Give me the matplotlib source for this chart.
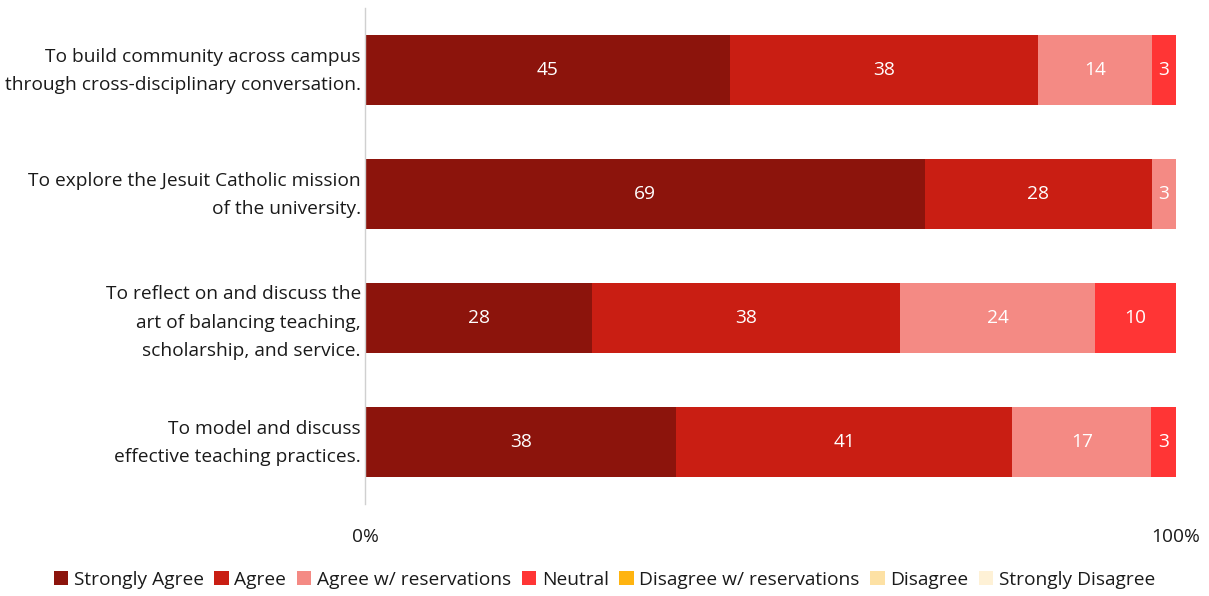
import matplotlib.pyplot as plt
import matplotlib.transforms as mtransforms
import numpy as np

plt.rcParams['font.family'] = ['Open Sans', 'DejaVu Sans']

statements = [
    "To build community across campus\nthrough cross-disciplinary conversation.",
    "To explore the Jesuit Catholic mission\nof the university.",
    "To reflect on and discuss the\nart of balancing teaching,\nscholarship, and service.",
    "To model and discuss\neffective teaching practices.",
]
responses = ["Strongly Agree", "Agree", "Agree w/ reservations", "Neutral",
             "Disagree w/ reservations", "Disagree", "Strongly Disagree"]
strongly_agree = [45, 69, 28, 38]
agree = [38, 28, 38, 41]
agree_res = [14, 3, 24, 17]
neutral = [3, 0, 10, 3]
disagree_res = [0, 0, 0, 0]
disagree = [0, 0, 0, 0]
strongly_disagree = [0, 0, 0, 0]
colors = ["#8C140C", "#C91E13", "#F48A84", "#FF3535",
          "#FFB410", "#FDE1A4", "#FEF1D6"]
xtick_labels = ["0%", "100%"]

series = np.array([strongly_agree, agree, agree_res, neutral,
                   disagree_res, disagree, strongly_disagree], dtype=float)
shares = series / series.sum(axis=0)

FS = 13.8
fig = plt.figure(figsize=(12.09, 5.96), dpi=100)
ax = fig.add_axes([365 / 1209, 92 / 596, 811 / 1209, 496 / 596])

y = np.arange(len(statements))
left = np.zeros(len(statements))
for name, vals, raw, col in zip(responses, shares, series, colors):
    ax.barh(y, vals, left=left, height=0.57, color=col, label=name,
            linewidth=0)
    for yi, (l, v, r) in enumerate(zip(left, vals, raw)):
        if r > 0:
            ax.text(l + v / 2, yi, f"{int(r)}", ha="center", va="center",
                    color="white", fontsize=FS)
    left += vals

ax.set_ylim(len(statements) - 0.5, -0.5)
ax.set_xlim(0, 1)
ax.set_yticks(y)
ax.set_yticklabels(statements, fontsize=FS, color="#1A1A1A", linespacing=1.72)
ax.tick_params(axis="y", length=0, pad=3)
# nudge the wrapped category labels so their block sits on the bar centre
for lbl in ax.get_yticklabels():
    lines = lbl.get_text().count("\n") + 1
    dy = 6 if lines == 2 else 2.5
    lbl.set_transform(lbl.get_transform() +
                      mtransforms.ScaledTranslation(0, dy / 100, fig.dpi_scale_trans))
ax.set_xticks([0, 1])
ax.set_xticklabels(xtick_labels, fontsize=FS, color="#1A1A1A")
ax.tick_params(axis="x", length=0, pad=17)
for s in ["top", "right", "bottom"]:
    ax.spines[s].set_visible(False)
ax.spines["left"].set_color("#D0D0D0")
ax.spines["left"].set_linewidth(1)

fig.legend(loc="center", bbox_to_anchor=(0.5, 16 / 596), ncol=7,
           frameon=False, fontsize=FS, handlelength=0.75, handleheight=0.75,
           handletextpad=0.3, columnspacing=0.55, labelcolor="#1A1A1A")

fig.savefig("out.png", dpi=100)
